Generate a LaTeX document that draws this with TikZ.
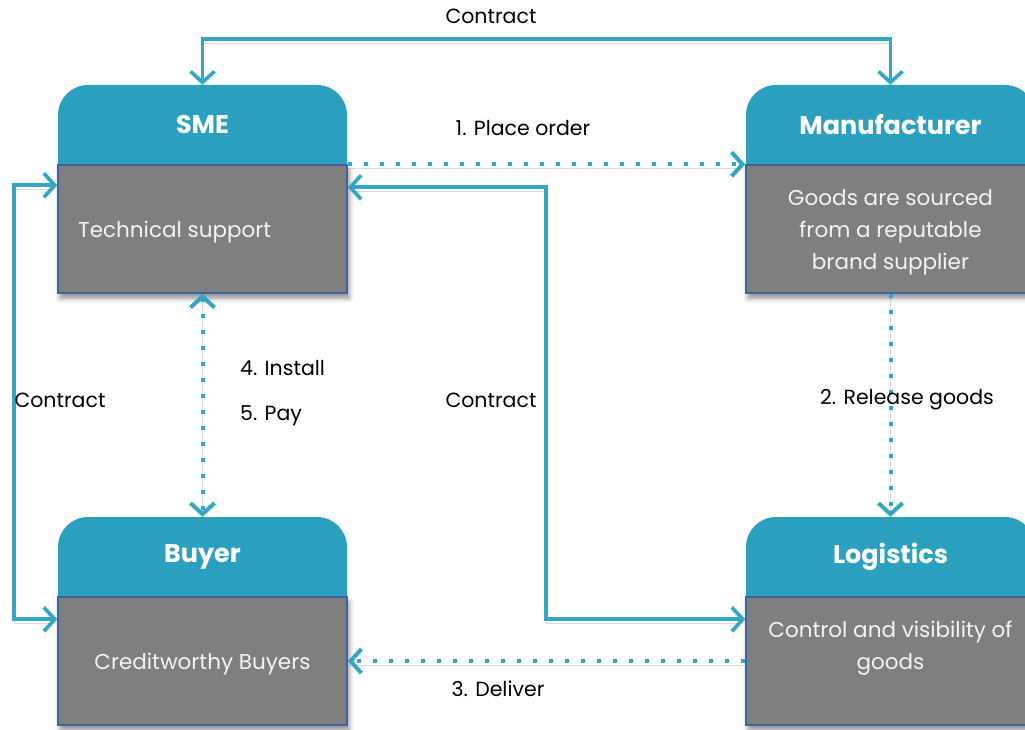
\documentclass[tikz,border=0pt]{standalone}
\usepackage{fontspec}
\setmainfont{Poppins}
\usetikzlibrary{arrows.meta,shadows.blur}
\definecolor{tealhdr}{HTML}{2CA1BF}
\definecolor{tealline}{HTML}{33A6C3}
\definecolor{bodygray}{HTML}{7F7F7F}
\definecolor{bodyedge}{HTML}{3E639E}
\definecolor{bodytxt}{HTML}{F4F4F4}
\tikzset{
  tipbarb/.tip={Straight Barb[length=11pt,width=24pt]},
  hdrtitle/.style={minimum width=289, minimum height=80, inner sep=0,
    text=white, font=\fontsize{25.5}{30}\selectfont\bfseries},
  bodybox/.style={rectangle, fill=bodygray, draw=bodyedge, line width=1.5pt,
    minimum width=289, minimum height=128, inner sep=0,
    blur shadow={shadow xshift=2pt, shadow yshift=-5pt,
      shadow blur radius=5pt, shadow opacity=45}},
  bodytext/.style={text=bodytxt, inner sep=0, font=\fontsize{21.5}{32}\selectfont},
  lbl/.style={text=black, inner sep=0, font=\fontsize{20.5}{24}\selectfont},
  lineshade/.style={preaction={draw=black, opacity=0.14,
    transform canvas={yshift=-4pt}}},
  link/.style={draw=tealline, line width=3.6pt, line join=miter, lineshade},
  dotlink/.style={draw=tealline, line width=4pt, dash pattern=on 4pt off 12pt,
    lineshade},
}
% teal header band: rounded on top, square at the bottom (centre x, centre y)
\newcommand\hdrfill[2]{%
  \fill[tealhdr] (#1-144.5,#2+40) [rounded corners=30pt] -- (#1-144.5,#2-40)
    -- (#1+144.5,#2-40) [sharp corners] -- (#1+144.5,#2+40) -- cycle;}
\begin{document}
\begin{tikzpicture}[x=1pt,y=-1pt]
  \useasboundingbox (0,0) rectangle (1025,730);
  \clip (0,0) rectangle (1025,730);

  % header bands with their titles
  \hdrfill{202.5}{125}
  \hdrfill{890.5}{125}
  \hdrfill{202.5}{557}
  \hdrfill{890.5}{557}
  \node[hdrtitle] (smeH) at (202.5,125) {SME};
  \node[hdrtitle] (manH) at (890.5,125) {Manufacturer};
  \node[hdrtitle] (buyH) at (202.5,557) {Buyer};
  \node[hdrtitle] (logH) at (890.5,557) {Logistics};

  % grey content panels
  \node[bodybox] (sme) at (202.5,229) {};
  \node[bodybox] (man) at (890.5,229) {};
  \node[bodybox] (buyer) at (202.5,661) {};
  \node[bodybox] (logi) at (890.5,661) {};

  \node[bodytext, anchor=west] (smeTxt) at (78,232) {Technical support};
  \node[bodytext, align=center] (manTxt) at (890.5,232)
    {Goods are sourced\\from a reputable\\brand supplier};
  \node[bodytext] (buyTxt) at (202.5,664) {Creditworthy Buyers};
  \node[bodytext, align=center] (logTxt) at (890.5,648)
    {Control and visibility of\\goods};

  % bend points of the contract links
  \coordinate (leftBend) at (14,400);
  \coordinate (midBend) at (546,400);

  % contract links
  \draw[link, {tipbarb}-{tipbarb}] (smeH.north) -- ++(0,-46) -| (manH.north);
  \draw[link, {tipbarb}-{tipbarb}] ([yshift=-21pt]sme.north west)
    -| (leftBend) |- ([yshift=-23pt]buyer.north west);
  \draw[link, {tipbarb}-{tipbarb}] ([yshift=-23pt]sme.north east)
    -| (midBend) |- ([yshift=-23pt]logi.north west);

  % order and goods flow
  \draw[dotlink, -{tipbarb}] (sme.north east) -- (man.north west);
  \draw[dotlink, -{tipbarb}] (man.south) -- (logH.north);
  \draw[dotlink, -{tipbarb}] (logi.west) -- (buyer.east);
  \draw[dotlink, {tipbarb}-{tipbarb}] (sme.south) -- (buyH.north);

  % link labels
  \node[lbl] (lTop) at (491,16) {Contract};
  \node[lbl] (lLeft) at (60,400) {Contract};
  \node[lbl] (lMid) at (491,400) {Contract};
  \node[lbl] (lOrder) at (523,128) {1. Place order};
  \node[lbl] (lRelease) at (907,400) {2. Release goods};
  \node[lbl] (lDeliver) at (498,689) {3. Deliver};
  \node[lbl, anchor=west] (lInstall) at (240,368) {4. Install};
  \node[lbl, anchor=west] (lPay) at (240,416) {5. Pay};
\end{tikzpicture}
\end{document}
